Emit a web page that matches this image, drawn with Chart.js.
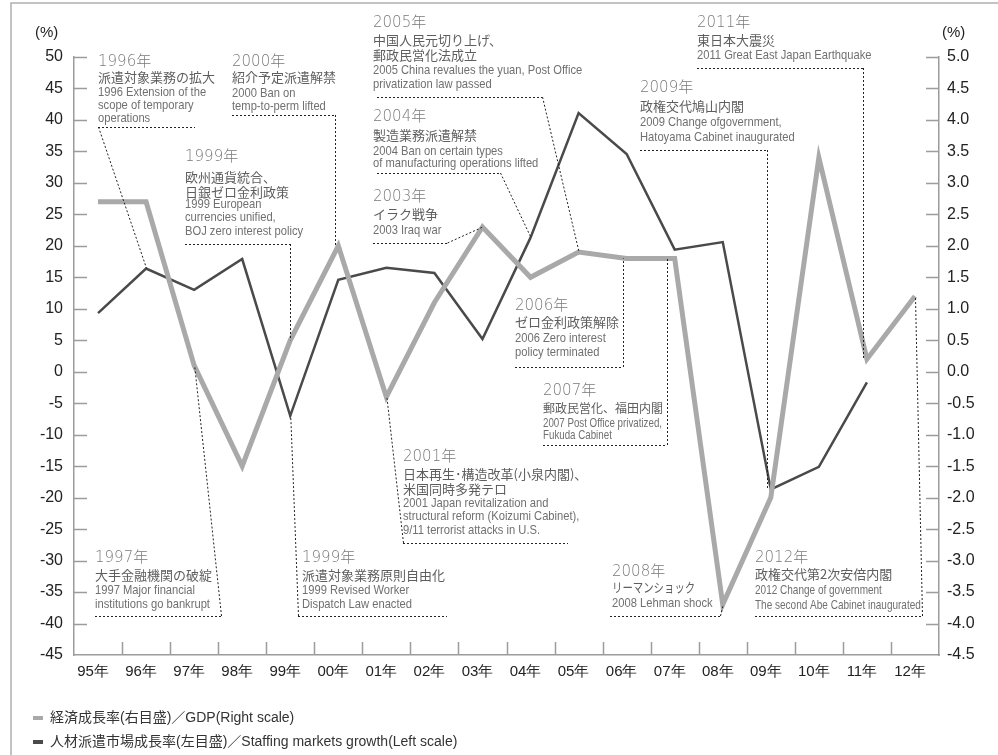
<!DOCTYPE html>
<html><head><meta charset="utf-8">
<script src="https://cdn.jsdelivr.net/npm/chart.js@4/dist/chart.umd.min.js"></script>
<style>html,body{margin:0;padding:0;background:#fff}#wrap{width:998px;height:755px;position:relative}</style>
</head><body><div id="wrap"><canvas id="c" width="998" height="755"></canvas></div>
<script>
// ---- data ----
const categories = ['95年','96年','97年','98年','99年','00年','01年','02年','03年','04年','05年','06年','07年','08年','09年','10年','11年','12年'];
const gdpGrowth = [2.7, 2.7, 0.1, -1.5, 0.5, 2.0, -0.4, 1.1, 2.3, 1.5, 1.9, 1.8, 1.8, -3.7, -2.0, 3.4, 0.2, 1.2];
const staffingGrowth = [9.3, 16.4, 13.0, 17.9, -7.0, 14.6, 16.5, 15.7, 5.2, 21.3, 41.1, 34.6, 19.4, 20.6, -18.7, -15.1, -1.7, null];
const leftTicks = [50, 45, 40, 35, 30, 25, 20, 15, 10, 5, 0, -5, -10, -15, -20, -25, -30, -35, -40, -45];
const rightTicks = [5.0, 4.5, 4.0, 3.5, 3.0, 2.5, 2.0, 1.5, 1.0, 0.5, 0.0, -0.5, -1.0, -1.5, -2.0, -2.5, -3.0, -3.5, -4.0, -4.5];
const gdpLabel = '経済成長率(右目盛)／GDP(Right scale)';
const staffingLabel = '人材派遣市場成長率(左目盛)／Staffing markets growth(Left scale)';
const unitLabel = '(%)';

// ---- annotations (layout in px; leaders end at data points) ----
const notes = [
 {year:'1996年', jp:['派遣対象業務の拡大'], en:['1996 Extension of the','scope of temporary','operations'], x:98, yYear:62, yJp:77.5, yEn:92, enStep:13, line:[98,195,127], from:[98,127], to:[1,1]},
 {year:'2000年', jp:['紹介予定派遣解禁'], en:['2000 Ban on','temp-to-perm lifted'], x:232, yYear:62, yJp:77.5, yEn:93, enStep:13.5, line:[232,335,115], from:[335,115], to:[0,5], vertical:true},
 {year:'1999年', jp:['欧州通貨統合、','日銀ゼロ金利政策'], en:['1999 European','currencies unified,','BOJ zero interest policy'], x:185, yYear:157, yJp:177, yEn:204, enStep:13.5, line:[185,290,244], from:[290,244], to:[0,4], vertical:true},
 {year:'2005年', jp:['中国人民元切り上げ、','郵政民営化法成立'], en:['2005 China revalues the yuan, Post Office','privatization law passed'], x:373, yYear:23, yJp:40, yEn:70, enStep:14, line:[377,542,97], from:[542,97], to:[0,10]},
 {year:'2004年', jp:['製造業務派遣解禁'], en:['2004 Ban on certain types','of manufacturing operations lifted'], x:373, yYear:117, yJp:135, yEn:151, enStep:12.5, line:[377,500,173], from:[500,173], to:[1,9]},
 {year:'2003年', jp:['イラク戦争'], en:['2003 Iraq war'], x:373, yYear:197, yJp:214, yEn:230, enStep:13, line:[373,447,243], from:[447,243], to:[0,8]},
 {year:'2009年', jp:['政権交代鳩山内閣'], en:['2009 Change ofgovernment,','Hatoyama Cabinet inaugurated'], x:640, yYear:88, yJp:106, yEn:122, enStep:15, line:[640,767,150], from:[767,150], to:[1,14], vertical:true},
 {year:'2011年', jp:['東日本大震災'], en:['2011 Great East Japan Earthquake'], x:697, yYear:23, yJp:40, yEn:55, enStep:13, line:[697,863,68], from:[863,68], to:[0,16], vertical:true},
 {year:'2006年', jp:['ゼロ金利政策解除'], en:['2006 Zero interest','policy terminated'], x:515, yYear:306, yJp:322, yEn:338, enStep:14, line:[515,623,367], from:[623,367], to:[0,11], vertical:true},
 {year:'2007年', jp:['郵政民営化、福田内閣'], en:['2007 Post Office privatized,','Fukuda Cabinet'], x:543, yYear:391, yJp:408, yEn:423, enStep:12.5, line:[543,667,445], from:[667,445], to:[0,12], vertical:true, jpSize:12, sx:0.75},
 {year:'2001年', jp:['日本再生･構造改革(小泉内閣)、','米国同時多発テロ'], en:['2001 Japan revitalization and','structural reform (Koizumi Cabinet),','9/11 terrorist attacks in U.S.'], x:403, yYear:457, yJp:474, yEn:503, enStep:13.5, line:[403,568,543], from:[403,543], to:[0,6]},
 {year:'1997年', jp:['大手金融機関の破綻'], en:['1997 Major financial','institutions go bankrupt'], x:95, yYear:558, yJp:575, yEn:590, enStep:14, line:[95,221,616], from:[221,616], to:[0,2]},
 {year:'1999年', jp:['派遣対象業務原則自由化'], en:['1999 Revised Worker','Dispatch Law enacted'], x:302, yYear:558, yJp:575, yEn:590, enStep:14, line:[298,447,616], from:[298,616], to:[1,4]},
 {year:'2008年', jp:['リーマンショック'], en:['2008 Lehman shock'], x:612, yYear:572, yJp:587, yEn:603, enStep:14, line:[610,720,616], from:[720,616], to:[0,13], jpSx:0.8},
 {year:'2012年', jp:['政権交代第2次安倍内閣'], en:['2012 Change of government','The second Abe Cabinet inaugurated'], x:755, yYear:558, yJp:574, yEn:590, enStep:15.5, line:[755,922,616], from:[922,616], to:[0,17], sx:0.77}
];

const GRAY = '#a9a9a9', DARK = '#4a4a4a', AXIS = '#9c9c9c';
const TICKFONT = '"Liberation Sans", Arial, sans-serif';

function fillScaled(ctx, text, x, y, sx) {
  ctx.save();
  ctx.translate(x, y);
  ctx.scale(sx, 1);
  ctx.fillText(text, 0, 0);
  ctx.restore();
}

const decor = {
  id: 'decor',
  beforeDraw(chart) {
    const ctx = chart.ctx;
    ctx.save();
    ctx.fillStyle = '#fff';
    ctx.fillRect(0, 0, chart.width, chart.height);
    ctx.strokeStyle = '#b0b0b0';
    ctx.lineWidth = 1.5;
    ctx.beginPath();
    ctx.moveTo(11, 755); ctx.lineTo(11, 3); ctx.lineTo(998, 3);
    ctx.stroke();
    ctx.restore();
  },
  afterDraw(chart) {
    const ctx = chart.ctx;
    const xs = chart.scales.x, yl = chart.scales.y, yr = chart.scales.y1;
    const area = chart.chartArea;
    ctx.save();
    // inward tick marks
    ctx.strokeStyle = AXIS; ctx.lineWidth = 1.5;
    ctx.beginPath();
    leftTicks.forEach(v => { if (v === -45) return; const y = Math.round(yl.getPixelForValue(v)) + 0.5; ctx.moveTo(area.left, y); ctx.lineTo(area.left + 13, y); });
    rightTicks.forEach(v => { if (v === -4.5) return; const y = Math.round(yr.getPixelForValue(v)) + 0.5; ctx.moveTo(area.right, y); ctx.lineTo(area.right - 13, y); });
    for (let i = 0; i < categories.length - 1; i++) {
      const x = Math.round(xs.getPixelForValue(i + 0.5)) + 0.5;
      ctx.moveTo(x, area.bottom); ctx.lineTo(x, area.bottom - 13);
    }
    ctx.stroke();
    // unit labels
    ctx.fillStyle = '#222';
    ctx.font = '15px ' + TICKFONT;
    ctx.textBaseline = 'middle';
    ctx.textAlign = 'left';
    ctx.fillText(unitLabel, 35, 33);
    ctx.fillText(unitLabel, 942, 33);
    // annotations
    notes.forEach(n => {
      ctx.textAlign = 'left';
      ctx.textBaseline = 'middle';
      ctx.fillStyle = '#7a7a7a';
      ctx.font = '300 15px "DejaVu Sans", "Noto Sans CJK JP", sans-serif';
      ctx.fillText(n.year, n.x, n.yYear);
      ctx.fillStyle = '#5e5e5e';
      ctx.font = (n.jpSize || 13) + 'px "Noto Sans CJK JP", sans-serif';
      n.jp.forEach((t, k) => fillScaled(ctx, t, n.x, n.yJp + k * 15, n.jpSx || 1));
      ctx.fillStyle = '#707070';
      ctx.font = '13px "Liberation Sans", Arial, sans-serif';
      n.en.forEach((t, k) => fillScaled(ctx, t, n.x, n.yEn + k * n.enStep, n.sx || 0.86));
      // leader
      const sc = n.to[0] === 0 ? yr : yl;
      const val = n.to[0] === 0 ? gdpGrowth[n.to[1]] : staffingGrowth[n.to[1]];
      let tx = xs.getPixelForValue(n.to[1]);
      const ty = sc.getPixelForValue(val);
      if (n.vertical) tx = n.from[0];
      ctx.strokeStyle = '#222';
      ctx.lineWidth = 1;
      ctx.setLineDash([2, 2]);
      ctx.beginPath();
      ctx.moveTo(n.line[0], n.line[2] + 0.5); ctx.lineTo(n.line[1], n.line[2] + 0.5);
      ctx.moveTo(n.from[0] + 0.5, n.from[1]); ctx.lineTo(tx + 0.5, ty);
      ctx.stroke();
      ctx.setLineDash([]);
    });
    // legend
    const items = [[GRAY, gdpLabel, 718], [DARK, staffingLabel, 742]];
    items.forEach(([c, t, y]) => {
      ctx.fillStyle = c;
      ctx.fillRect(33, y - 2, 10, 4);
      ctx.fillStyle = '#333';
      ctx.font = '14px "Liberation Sans", "Noto Sans CJK JP", sans-serif';
      ctx.textAlign = 'left';
      ctx.textBaseline = 'middle';
      ctx.fillText(t, 50, y);
    });
    ctx.restore();
  }
};

new Chart(document.getElementById('c'), {
  type: 'line',
  data: {
    labels: categories,
    datasets: [
      { label: gdpLabel, data: gdpGrowth, yAxisID: 'y1', borderColor: GRAY, backgroundColor: GRAY, borderWidth: 5, pointRadius: 0, tension: 0, borderJoinStyle: 'miter', borderCapStyle: 'butt' },
      { label: staffingLabel, data: staffingGrowth, yAxisID: 'y', borderColor: DARK, backgroundColor: DARK, borderWidth: 2.5, pointRadius: 0, tension: 0, borderJoinStyle: 'miter', borderCapStyle: 'butt' }
    ]
  },
  options: {
    responsive: false,
    animation: false,
    devicePixelRatio: 1,
    layout: { padding: { top: 57, left: 0, right: 0, bottom: 0 } },
    plugins: { legend: { display: false }, tooltip: { enabled: false } },
    scales: {
      x: {
        type: 'category',
        offset: true,
        grid: { display: false, drawTicks: false, offset: true },
        border: { display: true, color: AXIS, width: 1.5 },
        ticks: { color: '#222', font: { size: 15, family: TICKFONT }, padding: 8, labelOffset: -5, maxRotation: 0, autoSkip: false },
        afterFit(s) { s.height = 100; }
      },
      y: {
        position: 'left',
        min: -45, max: 50,
        afterBuildTicks(s) { s.ticks = leftTicks.map(v => ({ value: v })); },
        grid: { display: false, drawTicks: false },
        border: { display: true, color: AXIS, width: 1.5 },
        ticks: { color: '#222', font: { size: 16, family: TICKFONT }, padding: 11 },
        afterFit(s) { s.width = 74; }
      },
      y1: {
        position: 'right',
        min: -4.5, max: 5,
        afterBuildTicks(s) { s.ticks = rightTicks.map(v => ({ value: v })); },
        grid: { display: false, drawTicks: false },
        border: { display: true, color: AXIS, width: 1.5 },
        ticks: { color: '#222', font: { size: 16, family: TICKFONT }, padding: 8, callback: v => Number(v).toFixed(1) },
        afterFit(s) { s.width = 59; }
      }
    }
  },
  plugins: [decor]
});
</script>
</body></html>
